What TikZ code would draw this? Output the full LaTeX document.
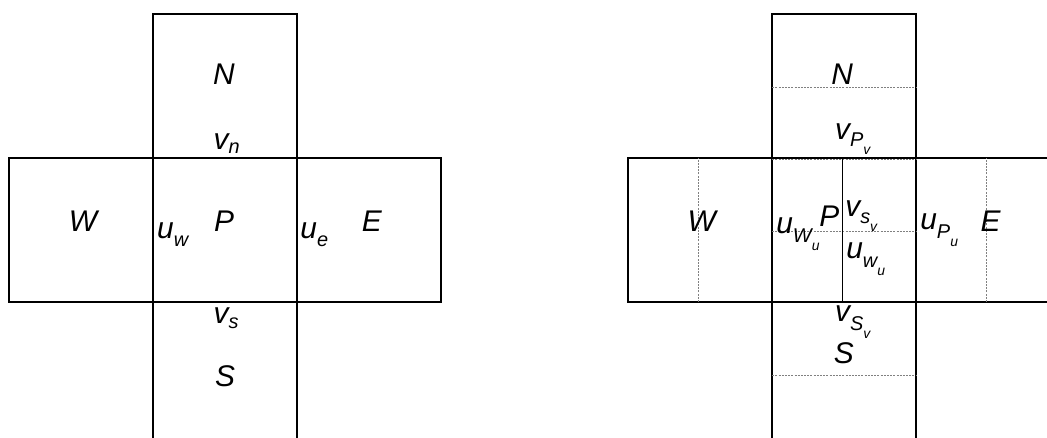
\documentclass[tikz,border=0pt]{standalone}
\usepackage{fontspec}
\setmainfont{Liberation Sans}
\newcommand{\drawlabel}{\node[inner sep=0, font=\fontsize{15}{18}\selectfont\itshape]}
\newcommand{\lowsub}[2][4.5pt]{\raisebox{-#1}{\fontsize{10}{12}\selectfont #2}}
\newcommand{\lowsubsub}[1]{\raisebox{-4pt}{\fontsize{7}{8}\selectfont #1}}
\tikzset{cellline/.style={line width=1pt},
  gridline/.style={gray, line width=0.6pt, dash pattern=on 1pt off 0.6pt}}

\begin{document}
\begin{tikzpicture}[x=1in, y=1in]
%left: main cells, right: with staggered u and v cells
\useasboundingbox (-1.0625,-0.9444) rectangle (6.2083,2.0972);

\draw[cellline] (-1,0) rectangle (2,1);
\draw[cellline] (0,-0.9444) -- (0,2) -- (1,2) -- (1,-0.9444);

\draw[cellline] (6.2083,1) -- (3.3,1) -- (3.3,0) -- (6.2083,0);
\draw[cellline] (4.3,-0.9444) -- (4.3,2) -- (5.3,2) -- (5.3,-0.9444);
\draw[gridline] (4.3,1.49) -- (5.3,1.49);
\draw[gridline] (4.3,0.988) -- (5.3,0.988);
\draw[gridline] (4.3,0.49) -- (5.3,0.49);
\draw[gridline] (4.3,-0.51) -- (5.3,-0.51);
\draw[gridline] (3.79,0) -- (3.79,1);
\draw[gridline] (5.79,0) -- (5.79,1);
\draw[line width=0.5pt] (4.785,0) -- (4.785,1);

\drawlabel[anchor=base] (N1) at (0.493,1.507) {N};
\drawlabel[anchor=base west] (vn) at (0.419,1.06) {v\lowsub[2pt]{n}};
\drawlabel[anchor=base] (W1) at (-0.486,0.488) {W};
\drawlabel[anchor=base] (P1) at (0.493,0.488) {P};
\drawlabel[anchor=base] (E1) at (1.52,0.488) {E};
\drawlabel[anchor=base west] (uw) at (0.026,0.4375) {u\lowsub[4pt]{w}};
\drawlabel[anchor=base west] (ue) at (1.021,0.4375) {u\lowsub[4pt]{e}};
\drawlabel[anchor=base west] (vs) at (0.419,-0.148) {v\lowsub[2.5pt]{s}};
\drawlabel[anchor=base] (S1) at (0.5,-0.588) {S};

\drawlabel[anchor=base] (N2) at (4.786,1.507) {N};
\drawlabel[anchor=base west] (vPv) at (4.735,1.125) {v\lowsub[3.5pt]{P\lowsubsub{v}}};
\drawlabel[anchor=base] (W2) at (3.81,0.488) {W};
\drawlabel[anchor=base] (P2) at (4.696,0.523) {P};
\drawlabel[anchor=base west] (vsv) at (4.805,0.592) {v\lowsub[3.5pt]{s\lowsubsub{v}}};
\drawlabel[anchor=base west] (uWu) at (4.326,0.477) {u\lowsub{W\lowsubsub{u}}};
\drawlabel[anchor=base west] (uwu) at (4.812,0.303) {u\lowsub{w\lowsubsub{u}}};
\drawlabel[anchor=base west] (uPu) at (5.326,0.5) {u\lowsub{P\lowsubsub{u}}};
\drawlabel[anchor=base] (E2) at (5.817,0.488) {E};
\drawlabel[anchor=base west] (vSv) at (4.735,-0.137) {v\lowsub{S\lowsubsub{v}}};
\drawlabel[anchor=base] (S2) at (4.797,-0.426) {S};
\end{tikzpicture}
\end{document}
